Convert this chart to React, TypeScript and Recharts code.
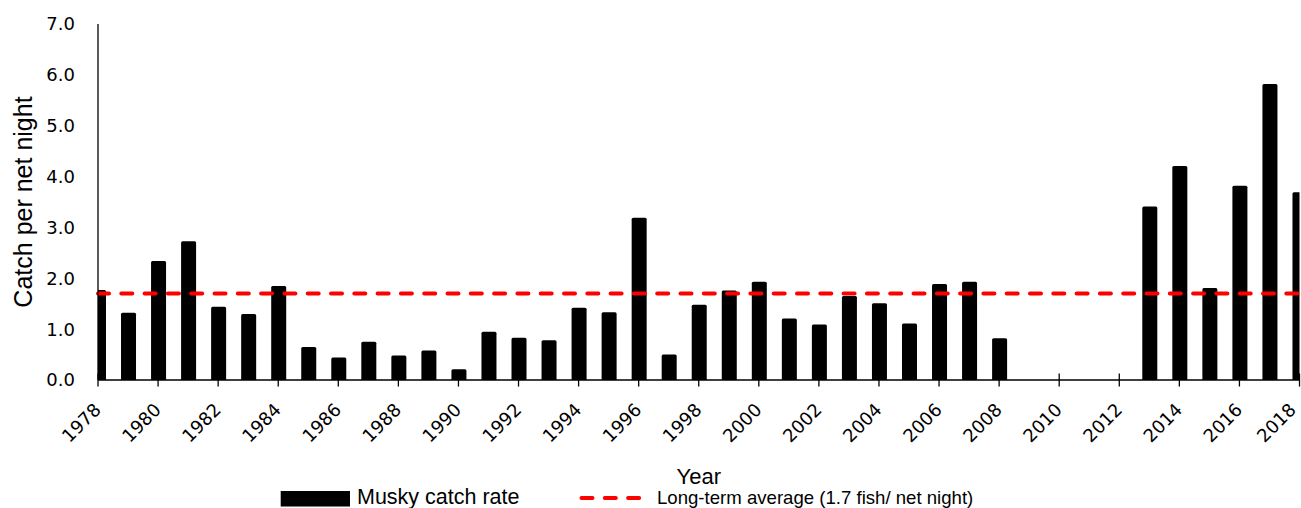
import React from 'react';
import { ComposedChart, Bar, XAxis, YAxis, ReferenceLine, Legend } from 'recharts';

const years: number[] = [
  1978, 1979, 1980, 1981, 1982, 1983, 1984, 1985, 1986, 1987,
  1988, 1989, 1990, 1991, 1992, 1993, 1994, 1995, 1996, 1997,
  1998, 1999, 2000, 2001, 2002, 2003, 2004, 2005, 2006, 2007,
  2008, 2009, 2010, 2011, 2012, 2013, 2014, 2015, 2016, 2017, 2018,
];
const catchRate: (number | null)[] = [
  1.77, 1.32, 2.34, 2.73, 1.44, 1.30, 1.85, 0.65, 0.44, 0.75,
  0.48, 0.58, 0.21, 0.95, 0.83, 0.78, 1.42, 1.33, 3.19, 0.50,
  1.48, 1.76, 1.93, 1.21, 1.09, 1.65, 1.51, 1.11, 1.89, 1.93,
  0.82, null, null, null, null, 3.41, 4.21, 1.81, 3.82, 5.82, 3.69,
];
const xTicks: number[] = [
  1978, 1980, 1982, 1984, 1986, 1988, 1990, 1992, 1994, 1996, 1998,
  2000, 2002, 2004, 2006, 2008, 2010, 2012, 2014, 2016, 2018,
];
const yTicks: number[] = [0, 1, 2, 3, 4, 5, 6, 7];
const longTermAverage = 1.7;
const seriesName = 'Musky catch rate';
const averageName = 'Long-term average (1.7 fish/ net night)';
const xTitle = 'Year';
const yTitle = 'Catch per net night';

const data = years.map((year, i) => ({ year, rate: catchRate[i] }));

const CHART_W = 1301;
const CHART_H = 508;
const RED = '#FF0000';
const TICK_FONT = 'DejaVu Sans';
const TITLE_FONT = 'Liberation Sans';

const XTick = (props: any) => {
  const { x, y, payload } = props;
  const tx = Math.min(x + 4, CHART_W - 4);
  const ty = y + 31;
  return (
    <g>
      <line x1={x} x2={x} y1={y - 6.5} y2={y + 6.5} stroke="#000" strokeWidth={1.3} />
      <text
        x={tx}
        y={ty}
        textAnchor="end"
        transform={`rotate(-45 ${tx} ${ty})`}
        fontFamily={TICK_FONT}
        fontSize={18}
        fill="#000"
      >
        {payload.value}
      </text>
    </g>
  );
};

const YTitle = (props: any) => {
  const vb = props.viewBox || { x: 0, y: 24, width: 98, height: 356 };
  const tx = vb.x + 32;
  const ty = vb.y + vb.height / 2;
  return (
    <text
      x={tx}
      y={ty}
      textAnchor="middle"
      transform={`rotate(-90 ${tx} ${ty})`}
      fontFamily={TITLE_FONT}
      fontSize={25}
      fill="#000"
    >
      {yTitle}
    </text>
  );
};

const XTitle = (props: any) => {
  const vb = props.viewBox || { x: 98, y: 380, width: 1201.5, height: 60 };
  return (
    <text
      x={vb.x + vb.width / 2}
      y={vb.y + 104}
      textAnchor="middle"
      fontFamily={TITLE_FONT}
      fontSize={22}
      fill="#000"
    >
      {xTitle}
    </text>
  );
};

const LegendContent = () => (
  <svg width={CHART_W} height={24} style={{ display: 'block' }}>
    <rect x={280.7} y={7} width={69.3} height={15.5} fill="#000" />
    <text x={357} y={19.5} fontFamily={TITLE_FONT} fontSize={21.5} fill="#000">
      {seriesName}
    </text>
    <line
      x1={581.5}
      x2={639.5}
      y1={14}
      y2={14}
      stroke={RED}
      strokeWidth={4}
      strokeDasharray="11 12.3"
      strokeLinecap="round"
    />
    <text x={657} y={19.5} fontFamily={TITLE_FONT} fontSize={18.6} fill="#000">
      {averageName}
    </text>
  </svg>
);

export default function App() {
  return (
    <div style={{ position: 'absolute', left: 0, top: 0, width: CHART_W, height: CHART_H, background: '#fff' }}>
      <ComposedChart
        width={CHART_W}
        height={CHART_H}
        data={data}
        margin={{ top: 24, right: 1.5, left: 0, bottom: 68 }}
      >
        <XAxis
          dataKey="year"
          type="number"
          domain={[1978, 2018]}
          ticks={xTicks}
          interval={0}
          allowDataOverflow
          axisLine={{ stroke: '#000', strokeWidth: 1.3 }}
          tickLine={false}
          tickSize={0}
          tickMargin={0}
          tick={<XTick />}
          height={60}
          label={<XTitle />}
        />
        <YAxis
          type="number"
          domain={[0, 7]}
          ticks={yTicks}
          interval={0}
          width={98}
          axisLine={{ stroke: '#000', strokeWidth: 1.3 }}
          tickLine={false}
          tickSize={0}
          tickMargin={23}
          tickFormatter={(v: number) => v.toFixed(1)}
          tick={{ fontFamily: TICK_FONT, fontSize: 18, fill: '#000' }}
          label={<YTitle />}
        />
        <Bar
          dataKey="rate"
          name={seriesName}
          fill="#000"
          barSize={15}
          radius={[1.5, 1.5, 0, 0]}
          isAnimationActive={false}
        />
        <ReferenceLine
          y={longTermAverage}
          stroke={RED}
          strokeWidth={4}
          strokeDasharray="11 12.3"
          strokeLinecap="round"
        />
        <Legend
          layout="horizontal"
          verticalAlign="middle"
          align="center"
          content={<LegendContent />}
          wrapperStyle={{ position: 'absolute', left: 0, top: 484, width: CHART_W, height: 24 }}
        />
      </ComposedChart>
    </div>
  );
}
